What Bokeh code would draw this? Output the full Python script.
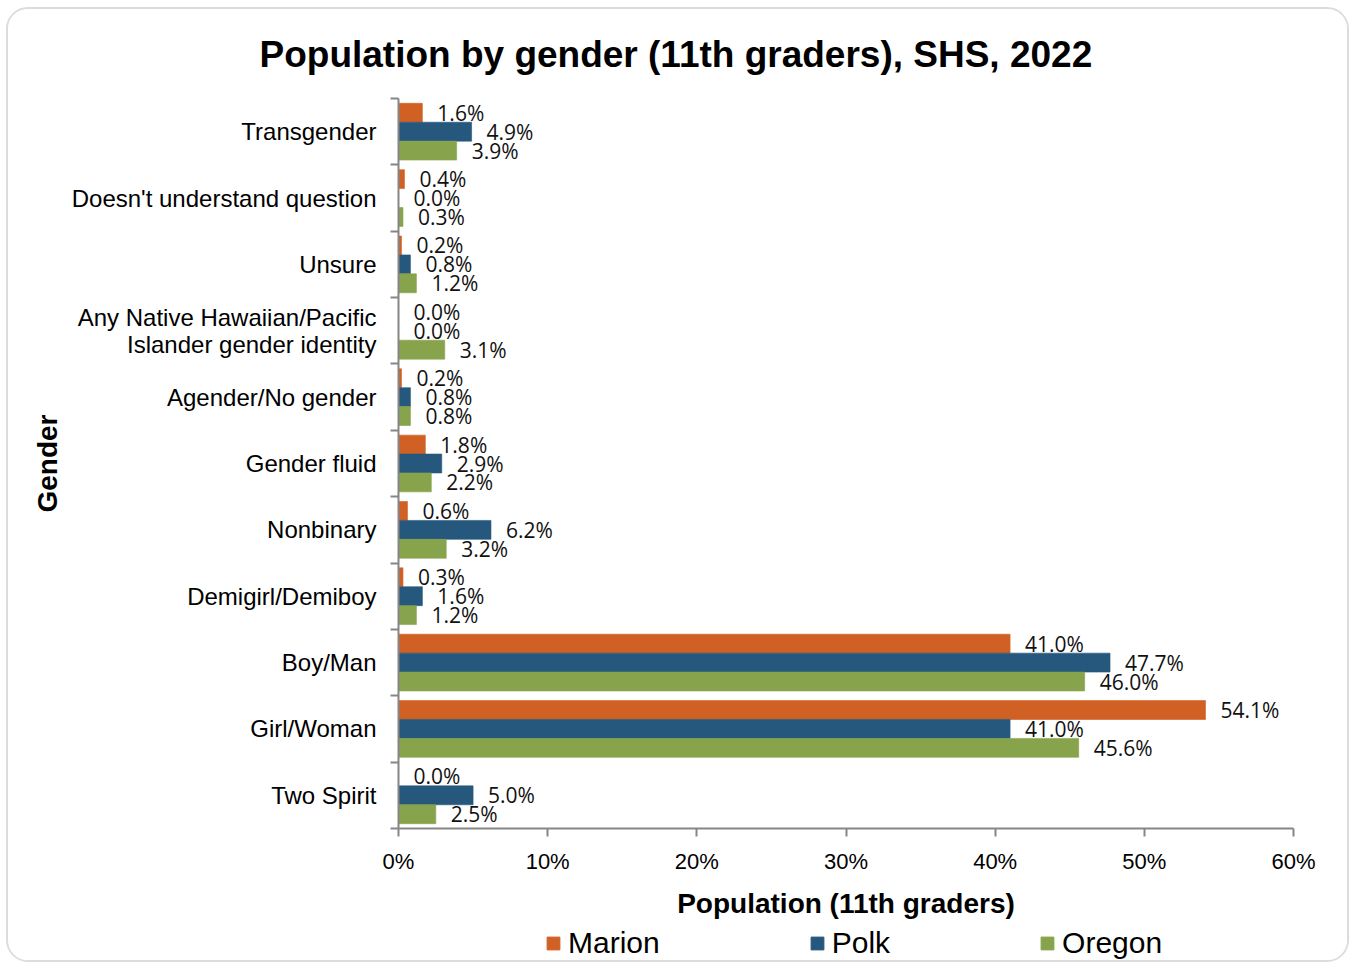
from bokeh.plotting import figure
from bokeh.layouts import column
from bokeh.models import ColumnDataSource, FixedTicker, Range1d, Legend, LegendItem, CustomJSTickFormatter
from bokeh.transform import dodge
from bokeh.core.properties import value
from bokeh.embed import file_html
from bokeh.resources import INLINE

categories = [
    "Transgender",
    "Doesn't understand question",
    "Unsure",
    "Any Native Hawaiian/Pacific\nIslander gender identity",
    "Agender/No gender",
    "Gender fluid",
    "Nonbinary",
    "Demigirl/Demiboy",
    "Boy/Man",
    "Girl/Woman",
    "Two Spirit",
]
marion = [1.6, 0.4, 0.2, 0.0, 0.2, 1.8, 0.6, 0.3, 41.0, 54.1, 0.0]
polk = [4.9, 0.0, 0.8, 0.0, 0.8, 2.9, 6.2, 1.6, 47.7, 41.0, 5.0]
oregon = [3.9, 0.3, 1.2, 3.1, 0.8, 2.2, 3.2, 1.2, 46.0, 45.6, 2.5]
series_names = ["Marion", "Polk", "Oregon"]
colors = ["#D06024", "#25587C", "#87A34C"]
x_ticks = [0, 10, 20, 30, 40, 50, 60]

n = len(categories)
ypos = [n - 1 - i + 0.5 for i in range(n)]
bounds = list(range(n + 1))

W, H1, H2 = 1339, 917, 34
p = figure(width=W, height=H1, output_backend="svg", toolbar_location=None,
           x_range=Range1d(0, 60), y_range=Range1d(0, n),
           min_border_left=390, min_border_right=54, min_border_top=89, min_border_bottom=98)
p.outline_line_color = None
p.xgrid.grid_line_color = None
p.ygrid.grid_line_color = None

p.title.text = "Population by gender (11th graders), SHS, 2022"
p.title.align = "left"
p.title.vertical_align = "top"
p.title.offset = -139
p.title.text_font = "Liberation Sans"
p.title.text_font_size = "37px"
p.title.text_font_style = "bold"
p.title.text_color = "black"
p.title.standoff = 44

label_map = {}
for yv, c in zip(ypos, categories):
    label_map[yv] = c

# y axis
ya = p.yaxis[0]
ya.ticker = FixedTicker(ticks=ypos, minor_ticks=bounds)
ya.major_label_overrides = label_map
ya.major_tick_out = 0
ya.major_tick_in = 0
ya.minor_tick_out = 8
ya.minor_tick_in = 0
ya.minor_tick_line_color = "#868686"
ya.axis_line_color = "#868686"
ya.axis_line_width = 2
ya.minor_tick_line_width = 2
ya.major_label_text_font = "Liberation Sans"
ya.major_label_text_font_size = "24px"
ya.major_label_text_line_height = 1.0
ya.major_label_text_color = "black"
ya.major_label_standoff = 14
ya.axis_label = "Gender"
ya.axis_label_text_font = "Liberation Sans"
ya.axis_label_text_font_size = "28px"
ya.axis_label_text_font_style = "bold"
ya.axis_label_text_color = "black"
ya.axis_label_standoff = 6

# x axis
xa = p.xaxis[0]
xa.ticker = FixedTicker(ticks=x_ticks, minor_ticks=[])
xa.formatter = CustomJSTickFormatter(code="return tick.toFixed(0) + '%'")
xa.major_tick_out = 8
xa.major_tick_in = 0
xa.major_tick_line_color = "#868686"
xa.major_tick_line_width = 2
xa.axis_line_color = "#868686"
xa.axis_line_width = 2
xa.major_label_text_font = "Liberation Sans"
xa.major_label_text_font_size = "22px"
xa.major_label_text_color = "black"
xa.major_label_standoff = 12
xa.axis_label = "Population (11th graders)"
xa.axis_label_text_font = "Liberation Sans"
xa.axis_label_text_font_size = "28px"
xa.axis_label_text_font_style = "bold"
xa.axis_label_text_color = "black"
xa.axis_label_standoff = 11

# legend strip below the chart (frame aligned with the chart's frame)
p2 = figure(width=W, height=H2, output_backend="svg", toolbar_location=None,
            x_axis_type=None, y_axis_type=None, min_border=0)
p2.outline_line_color = None

offsets = [0.285, 0.0, -0.285]
items = []
for name, vals, col, off in zip(series_names, [marion, polk, oregon], colors, offsets):
    src = ColumnDataSource(dict(y=ypos, v=vals, lab=["%.1f%%" % v for v in vals]))
    p.hbar(y=dodge("y", off, range=p.y_range), left=0, right="v", height=0.285,
           source=src, fill_color=col, line_color=col, line_alpha=0.6)
    p.text(x="v", y=dodge("y", off, range=p.y_range), text="lab", source=src,
           x_offset=15, text_baseline="middle", text_align="left",
           text_font=value("Open Sans"), text_font_size="21px", text_color="#111111")
    proxy = p2.hbar(y="y", left=0, right="v", height=0.285, source=src,
                    fill_color=col, line_color=col, visible=False)
    items.append(LegendItem(label=name, renderers=[proxy]))

legend = Legend(items=items, orientation="horizontal", location=(147, 0),
                label_text_font="Liberation Sans", label_text_font_size="30px",
                label_text_color="black", glyph_width=16, glyph_height=16,
                label_standoff=7, spacing=149, padding=0, margin=0,
                border_line_color=None, background_fill_alpha=0, label_height=34,
                inactive_fill_alpha=0)
p2.add_layout(legend, "center")

layout = column(p, p2, spacing=0,
                styles={"border": "2px solid #dcdcdc", "border-radius": "22px",
                        "margin-left": "6px", "margin-top": "7px", "overflow": "hidden"})

open("out.html", "w").write(file_html(layout, INLINE))
